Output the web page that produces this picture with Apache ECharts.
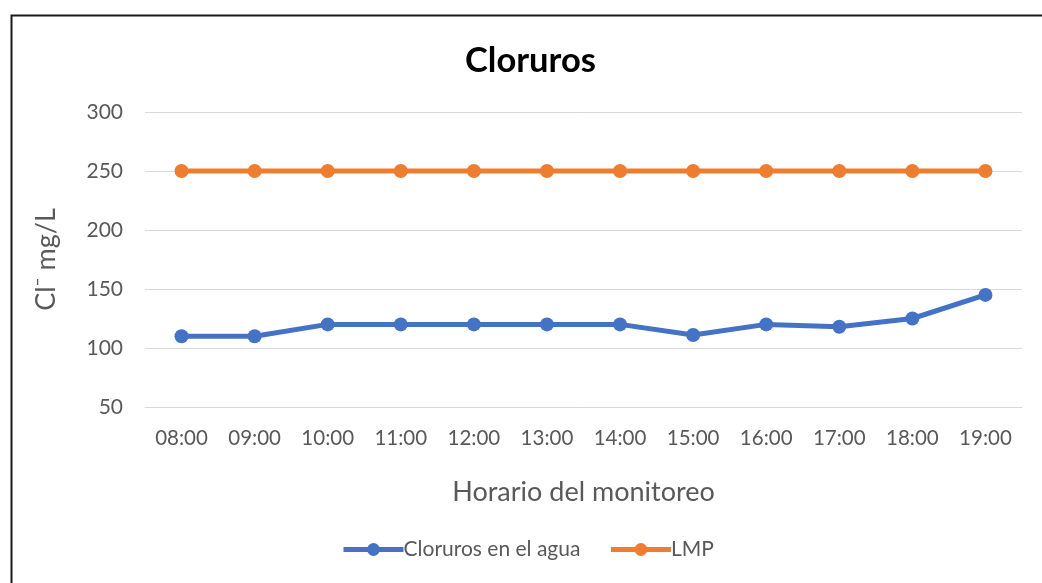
<!DOCTYPE html>
<html>
<head>
<meta charset="utf-8">
<script src="https://cdn.jsdelivr.net/npm/echarts@6/dist/echarts.min.js"></script>
<style>
  html, body { margin: 0; padding: 0; background: #fff; }
  #chart { width: 1042px; height: 583px; }
</style>
</head>
<body>
<div id="chart"></div>
<script>
  var horas = ['08:00', '09:00', '10:00', '11:00', '12:00', '13:00', '14:00', '15:00', '16:00', '17:00', '18:00', '19:00'];
  var cloruros = [110, 110, 120, 120, 120, 120, 120, 111, 120, 118, 125, 145];
  var lmp = [250, 250, 250, 250, 250, 250, 250, 250, 250, 250, 250, 250];

  var font = 'Lato, "Open Sans", sans-serif';
  var chart = echarts.init(document.getElementById('chart'));
  var option = {
    backgroundColor: '#fff',
    animation: false,
    textStyle: { fontFamily: font },
    graphic: [{
      type: 'rect',
      left: 9, top: 13,
      shape: { width: 1100, height: 620 },
      style: { fill: 'none', stroke: '#1a1a1a', lineWidth: 2 },
      z: 100
    }],
    title: {
      text: 'Cloruros',
      left: 460,
      top: 38,
      textStyle: { fontFamily: font, fontSize: 34.5, fontWeight: 'bold', color: '#000' }
    },
    legend: {
      bottom: 18,
      left: 336,
      itemWidth: 60,
      itemHeight: 16,
      itemGap: 28,
      textStyle: { fontFamily: font, fontSize: 21, color: '#595959', padding: [0, 0, 0, -5] },
      data: [
        { name: 'Cloruros en el agua', lineStyle: { width: 5 } },
        { name: 'LMP', lineStyle: { width: 5 } }
      ]
    },
    grid: { left: 145, right: 20, top: 112, bottom: 176 },
    xAxis: {
      type: 'category',
      data: horas,
      boundaryGap: true,
      name: 'Horario del monitoreo',
      nameLocation: 'middle',
      nameGap: 72,
      nameTextStyle: { fontFamily: font, fontSize: 27, color: '#595959' },
      axisLine: { show: true, lineStyle: { color: '#d9d9d9', width: 1 } },
      axisTick: { show: false },
      axisLabel: { fontFamily: font, fontSize: 20.5, color: '#595959', margin: 21 }
    },
    yAxis: {
      type: 'value',
      min: 50, max: 300, interval: 50,
      name: 'Cl\u207B mg/L',
      nameLocation: 'middle',
      nameGap: 85,
      nameRotate: 90,
      nameTextStyle: { fontFamily: font, fontSize: 27, color: '#595959' },
      axisLine: { show: false },
      axisTick: { show: false },
      axisLabel: { fontFamily: font, fontSize: 21, color: '#595959', margin: 22 },
      splitLine: { lineStyle: { color: '#d9d9d9', width: 1 } }
    },
    series: [{
      name: 'Cloruros en el agua',
      type: 'line',
      data: cloruros,
      symbol: 'circle',
      symbolSize: 14,
      color: '#4472C4',
      lineStyle: { width: 5, color: '#4472C4' },
      itemStyle: { color: '#4472C4' }
    }, {
      name: 'LMP',
      type: 'line',
      data: lmp,
      symbol: 'circle',
      symbolSize: 14,
      color: '#ED7D31',
      lineStyle: { width: 5, color: '#ED7D31' },
      itemStyle: { color: '#ED7D31' }
    }]
  };
  chart.setOption(option);
</script>
</body>
</html>
